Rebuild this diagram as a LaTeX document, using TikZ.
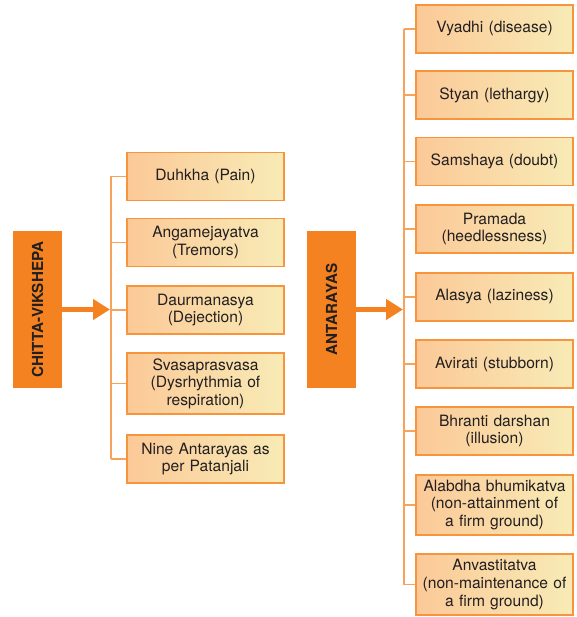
\documentclass[tikz,border=0pt]{standalone}
\usepackage{fontspec}
\setmainfont{TeX Gyre Heros}
\usetikzlibrary{arrows.meta}
\definecolor{mainorange}{HTML}{F58220}
\definecolor{boxline}{HTML}{F7943E}
\definecolor{boxleft}{HTML}{FBC997}
\definecolor{boxright}{HTML}{F8EBB6}
\definecolor{treeline}{HTML}{F7A35C}
\definecolor{txt}{HTML}{231F20}
\tikzset{
  item/.style={draw=boxline, line width=1.2pt, left color=boxleft, right color=boxright,
    minimum width=157pt, minimum height=48pt, text width=154pt, align=center,
    inner sep=0pt, text=txt, font=\fontsize{15.6}{17.6}\selectfont},
  head/.style={fill=mainorange, minimum width=49pt, minimum height=157pt, inner sep=0pt},
  headtext/.style={rotate=90, text=txt, font=\fontsize{15.2}{17.5}\selectfont\bfseries},
  tree/.style={draw=treeline, line width=1.2pt},
  bigarrow/.style={draw=mainorange, line width=5pt, -{Triangle[length=17pt,width=20pt]}, shorten >=1pt}
}
\begin{document}
\begin{tikzpicture}[x=1pt,y=-1pt]
\useasboundingbox (0,0) rectangle (576,617);
\newcommand{\LeftX}{205.5}
\newcommand{\RightX}{494.5}

% heads
\node[head] (CV) at (37.5,309.5) {};
\node[headtext] at (CV) {CHITTA-VIKSHEPA};
\node[head] (AN) at (331.5,309.5) {};
\node[headtext] at (AN) {ANTARAYAS};

% left column
\node[item] (L1) at (\LeftX,176.5) {Duhkha (Pain)};
\node[item] (L2) at (\LeftX,242.5) {Angamejayatva\\(Tremors)};
\node[item] (L3) at (\LeftX,310) {Daurmanasya\\(Dejection)};
\node[item, minimum height=61pt] (L4) at (\LeftX,383.5) {Svasaprasvasa\\(Dysrhythmia of\\respiration)};
\node[item] (L5) at (\LeftX,459) {Nine Antarayas as\\per Patanjali};

% right column
\node[item] (R1) at (\RightX,29) {Vyadhi (disease)};
\node[item] (R2) at (\RightX,95) {Styan (lethargy)};
\node[item] (R3) at (\RightX,161.5) {Samshaya (doubt)};
\node[item] (R4) at (\RightX,229) {Pramada\\(heedlessness)};
\node[item] (R5) at (\RightX,297) {Alasya (laziness)};
\node[item] (R6) at (\RightX,364) {Avirati (stubborn)};
\node[item] (R7) at (\RightX,431) {Bhranti darshan\\(illusion)};
\node[item, minimum height=60pt] (R8) at (\RightX,505) {Alabdha bhumikatva\\(non-attainment of\\a firm ground)};
\node[item, minimum height=61pt] (R9) at (\RightX,584.5) {Anvastitatva\\(non-maintenance of\\a firm ground)};

% trunks
\coordinate (LT) at (111,176.5);
\coordinate (LB) at (111,459);
\coordinate (RT) at (404,29);
\coordinate (RB) at (404,584.5);
\draw[tree] (LT) -- (LB);% left trunk
\draw[tree] (RT) -- (RB);% right trunk
\draw[tree] (L1.west) -- (L1.west -| LT);
\draw[tree] (L2.west) -- (L2.west -| LT);
\draw[tree] (L3.west) -- (L3.west -| LT);
\draw[tree] (L4.west) -- (L4.west -| LT);
\draw[tree] (L5.west) -- (L5.west -| LT);
\draw[tree] (R1.west) -- (R1.west -| RT);
\draw[tree] (R2.west) -- (R2.west -| RT);
\draw[tree] (R3.west) -- (R3.west -| RT);
\draw[tree] (R4.west) -- (R4.west -| RT);
\draw[tree] (R5.west) -- (R5.west -| RT);
\draw[tree] (R6.west) -- (R6.west -| RT);
\draw[tree] (R7.west) -- (R7.west -| RT);
\draw[tree] (R8.west) -- (R8.west -| RT);
\draw[tree] (R9.west) -- (R9.west -| RT);

% arrows
\draw[bigarrow] (CV.east) -- (CV.east -| LT);
\draw[bigarrow] (AN.east) -- (AN.east -| RT);
\end{tikzpicture}
\end{document}
